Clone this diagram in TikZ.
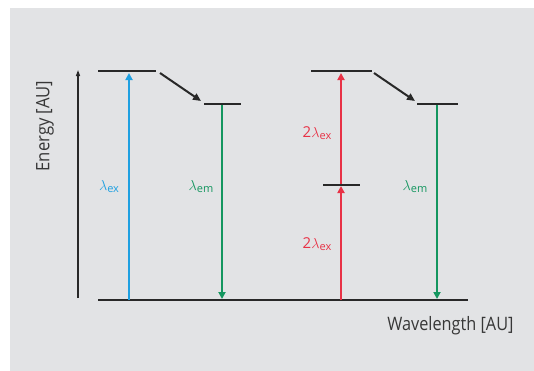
\documentclass[tikz,border=0pt]{standalone}
\usepackage{fontspec}
\setmainfont{Open Sans}
\usetikzlibrary{arrows.meta}
\definecolor{bg}{RGB}{226,227,229}
\definecolor{exblue}{RGB}{30,160,225}
\definecolor{emgreen}{RGB}{20,150,95}
\definecolor{exred}{RGB}{232,50,70}
\definecolor{ink}{RGB}{40,40,40}
\definecolor{txt}{RGB}{55,55,55}
\newcommand{\lamlab}[2]{{\fontsize{15}{15}\selectfont #1$\lambda$}\raisebox{-2pt}{\fontsize{11}{11}\selectfont #2}}
\tikzset{
  level/.style={draw=ink, line width=2.4pt},
  trans/.style={line width=2.6pt, -{Triangle[length=7pt,width=7pt]}},
  relax/.style={draw=ink, line width=2pt, -{Triangle[length=8pt,width=7pt]}},
  lab/.style={inner sep=1pt},
  axlab/.style={font=\fontsize{18.5}{20}\selectfont, text=txt}
}
\begin{document}
\begin{tikzpicture}[x=1pt,y=-1pt]
\useasboundingbox (0,0) rectangle (534,370);
\fill[white] (-5,-5) rectangle (540,376);
\fill[bg] (10,8) rectangle (540,376);
% coordinates
\coordinate (g0) at (98,300); \coordinate (g1) at (468,300);
\coordinate (a0) at (78,298); \coordinate (a1) at (78,70);
\coordinate (u1a) at (98,71); \coordinate (u1b) at (156,71);
\coordinate (l1a) at (204,104); \coordinate (l1b) at (241,104);
\coordinate (u2a) at (311,71); \coordinate (u2b) at (372,71);
\coordinate (m2a) at (323,185); \coordinate (m2b) at (360,185);
\coordinate (l2a) at (417,104); \coordinate (l2b) at (458,104);
% axis
\draw[ink, line width=1.3pt, -{Triangle[length=6pt,width=4pt]}] (a0) -- (a1);
% levels
\draw[level] (g0) -- (g1);
\draw[level] (u1a) -- (u1b);
\draw[level] (l1a) -- (l1b);
\draw[level] (u2a) -- (u2b);
\draw[draw=ink, line width=1.8pt] (m2a) -- (m2b);
\draw[level] (l2a) -- (l2b);
% transitions
\coordinate (b0) at (129,300); \coordinate (b1) at (129,73);
\draw[trans, exblue] (b0) -- (b1);
\coordinate (gA0) at (222,105); \coordinate (gA1) at (222,299);
\draw[trans, emgreen] (gA0) -- (gA1);
\coordinate (r0) at (341,300); \coordinate (r1) at (341,186);
\coordinate (r2) at (341,184); \coordinate (r3) at (341,73);
\draw[trans, exred] (r0) -- (r1);
\draw[trans, exred] (r2) -- (r3);
\coordinate (gB0) at (437,105); \coordinate (gB1) at (437,299);
\draw[trans, emgreen] (gB0) -- (gB1);
% relaxation
\coordinate (d1a) at (160,73); \coordinate (d1b) at (201,101);
\coordinate (d2a) at (374,73); \coordinate (d2b) at (415,101);
\draw[relax] (d1a) -- (d1b);
\draw[relax] (d2a) -- (d2b);
% labels
\node[lab, text=exblue] (lb) at (109,187) {\lamlab{}{ex}};
\node[lab, text=emgreen] (lg1) at (201,187) {\lamlab{}{em}};
\node[lab, text=exred] (lr1) at (317,133) {\lamlab{2}{ex}};
\node[lab, text=exred] (lr2) at (317,244) {\lamlab{2}{ex}};
\node[lab, text=emgreen] (lg2) at (415,187) {\lamlab{}{em}};
\node[axlab, rotate=90] (ey) at (45,126) {\scalebox{0.9}[1]{Energy [AU]}};
\node[axlab, anchor=east] (wl) at (517,326) {\scalebox{0.88}[1]{Wavelength [AU]}};
\end{tikzpicture}
\end{document}
